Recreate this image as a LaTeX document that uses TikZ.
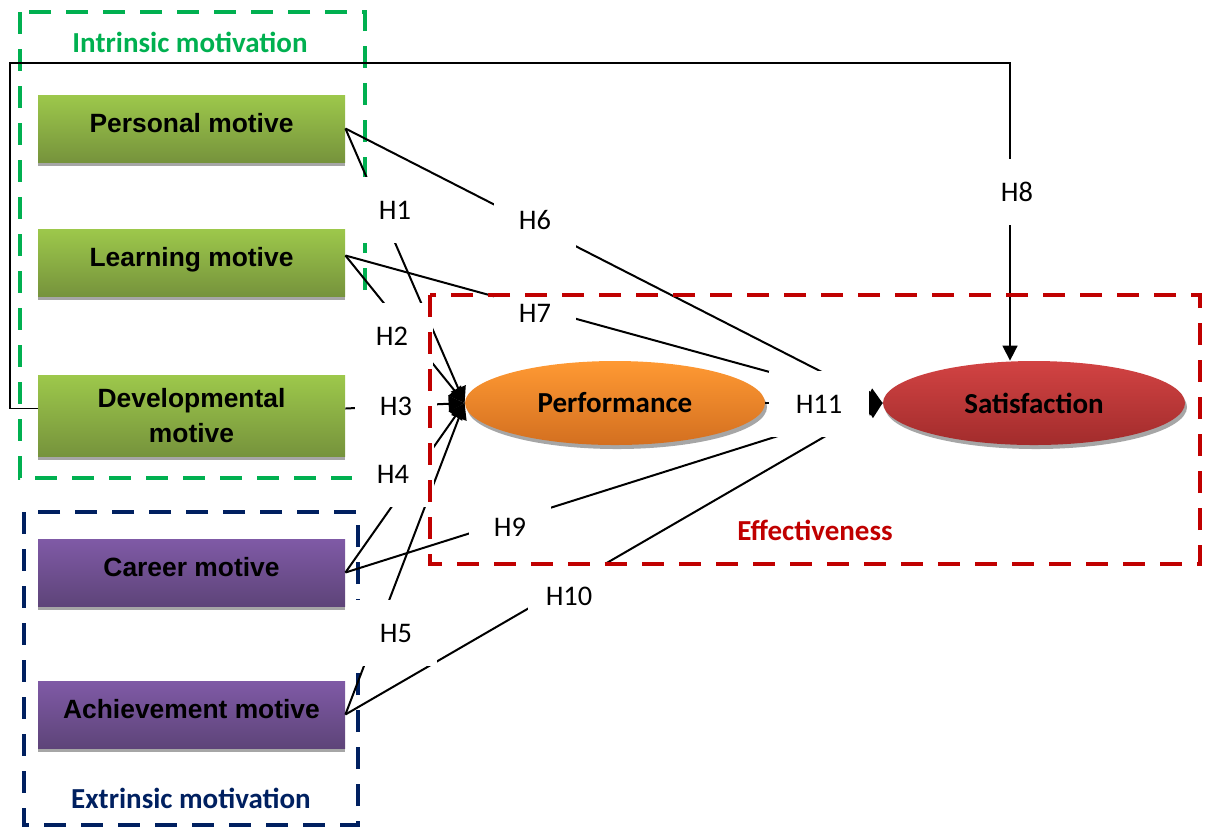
\documentclass[tikz,border=0pt]{standalone}
\usepackage{fontspec}
\usetikzlibrary{arrows.meta,shapes.geometric,shadows,calc}
\newfontfamily\arialf{Liberation Sans}
\newfontfamily\calf{Carlito}
\definecolor{igreen}{HTML}{00B050}
\definecolor{enavy}{HTML}{002060}
\definecolor{ered}{HTML}{C00000}
\definecolor{gtop}{HTML}{9DC84B}
\definecolor{gbot}{HTML}{76933C}
\definecolor{ptop}{HTML}{7F5AA6}
\definecolor{pbot}{HTML}{5E4479}
\definecolor{otop}{HTML}{FF9933}
\definecolor{obot}{HTML}{D36F20}
\definecolor{rtop}{HTML}{D24343}
\definecolor{rbot}{HTML}{A22C2C}
\definecolor{shad}{HTML}{A6A6A6}
\begin{document}
\begin{tikzpicture}[x=0.5pt,y=-0.5pt,
  motive/.style={rectangle, minimum width=153.5pt, minimum height=33.5pt, inner sep=0pt, align=center,
    font=\arialf\bfseries\fontsize{13.2}{17.5}\selectfont,
    drop shadow={shadow xshift=0pt,shadow yshift=-2pt,fill=shad,opacity=1}},
  oneline/.style={text height=9.5pt, text depth=6pt},
  gbox/.style={motive, top color=gtop, bottom color=gbot},
  pbox/.style={motive, top color=ptop, bottom color=pbot},
  oval/.style={ellipse, minimum width=150pt, minimum height=42pt, inner sep=0pt,
    font=\calf\bfseries\fontsize{14.5}{17}\selectfont,
    drop shadow={shadow xshift=1pt,shadow yshift=-2pt,fill=shad,opacity=1}},
  hyp/.style={fill=white, minimum width=41pt, minimum height=33pt, inner sep=0pt,
    font=\calf\fontsize{14.2}{16}\selectfont},
  link/.style={line width=1pt, -{Triangle[width=8pt,length=8pt]}},
  frame/.style={line width=2pt, dash pattern=on 11pt off 7.5pt},
  grouptitle/.style={font=\calf\bfseries\fontsize{14.5}{17}\selectfont}
]
\useasboundingbox (0,0) rectangle (1208,827);

% motive boxes
\node[gbox, oneline] (personal) at (191.5,128.5) {Personal motive};
\node[gbox, oneline] (learn) at (191.5,262.5) {Learning motive};
\node[gbox, minimum height=40.5pt] (devel) at (191.5,415.5) {Developmental\\motive};
\node[pbox, oneline] (career) at (191.5,572.5) {Career motive};
\node[pbox, oneline] (achieve) at (191.5,714.5) {Achievement motive};

% outcome ellipses
\node[oval, top color=otop, bottom color=obot] (perf) at (615,403) {Performance};
\node[oval, top color=rtop, bottom color=rbot, minimum width=151pt] (sat) at (1034,403) {Satisfaction};

% group frames
\draw[frame, igreen] (20,12) rectangle (365,478);
\draw[frame, enavy] (24,512) rectangle (358,825);

% connectors
\draw[link] (personal.east) -- (perf.west);
\draw[link] (personal.east) -- (sat.west);
\draw[link] ([yshift=3.5pt]learn.east) -- (perf.west);
\draw[link] ([yshift=3.5pt]learn.east) -- (sat.west);
\draw[link] ([yshift=3.5pt]devel.east) -- (perf.west);
\draw[link] (career.east) -- (perf.west);
\draw[link] (career.east) -- (sat.west);
\draw[link] (achieve.east) -- (perf.west);
\draw[link] (achieve.east) -- (sat.west);
\draw[link] (perf.east) -- (sat.west);
\coordinate (loopL) at (10,63);
\coordinate (loopR) at (1010,63);
\draw[line width=0.8pt, -{Triangle[width=7.5pt,length=7.5pt]}]
  ([yshift=3.5pt]devel.west) -| (loopL) -- (loopR) -- (loopR |- sat.north);

% hypothesis labels
\node[hyp] (h1) at (395,210) {H1};
\node[hyp] (h2) at (392,336) {H2};
\node[hyp] (h3) at (396,406) {H3};
\node[hyp] (h4) at (393,474) {H4};
\node[hyp] (h5) at (396,633) {H5};
\node[hyp] (h6) at (535,220) {H6};
\node[hyp] (h7) at (535,313) {H7};
\node[hyp] (h8) at (1017,192) {H8};
\node[hyp] (h9) at (510,527) {H9};
\node[hyp] (h10) at (569,596) {H10};
\node[hyp, minimum width=50pt] (h11) at (819,404) {H11};

% effectiveness frame
\draw[frame, ered] (430,295) rectangle (1200,564);

% group titles
\node[grouptitle, text=igreen] (tin) at (190,42) {Intrinsic motivation};
\node[grouptitle, text=enavy] (tex) at (191,798) {Extrinsic motivation};
\node[grouptitle, text=ered] (teff) at (815,530) {Effectiveness};
\end{tikzpicture}
\end{document}
